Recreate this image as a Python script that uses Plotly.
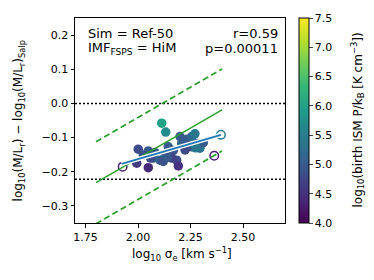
import plotly.graph_objects as go

# ---- data ----
sigma = [2.113, 2.132, 2.001, 2.049, 2.025, 2.081, 2.049, 1.994, 2.105, 2.129,
         2.144, 2.168, 2.184, 2.192, 2.208, 2.232, 2.256, 2.271, 2.280, 2.256,
         2.224, 2.295, 2.200, 2.160, 2.073, 2.311, 2.275, 2.120, 2.140, 2.060]
dml = [-0.058, -0.084, -0.134, -0.139, -0.151, -0.144, -0.188, -0.175, -0.166, -0.151,
       -0.127, -0.138, -0.166, -0.183, -0.117, -0.105, -0.097, -0.089, -0.117, -0.127,
       -0.136, -0.131, -0.097, -0.160, -0.160, -0.115, -0.130, -0.170, -0.158, -0.160]
pressure = [6.0, 5.7, 4.8, 5.0, 4.9, 5.0, 4.4, 4.6, 5.0, 5.2,
            5.0, 4.9, 4.8, 4.5, 5.1, 5.0, 5.2, 5.4, 5.0, 4.9,
            4.8, 5.3, 5.0, 4.7, 5.1, 5.0, 5.4, 4.9, 5.0, 4.8]

open_sigma = [2.395, 2.363, 1.927]
open_dml = [-0.092, -0.153, -0.185]
open_pressure = [5.6, 4.3, 4.4]

fit_x = [1.922, 2.395]
fit_y = [-0.177, -0.092]

rel_x = [1.80, 2.40]
rel_y = [-0.232, -0.019]
rel_scatter = 0.12

ref_levels = [0.0, -0.2218]

xticks = [1.75, 2.00, 2.25, 2.50]
yticks = [-0.3, -0.2, -0.1, 0.0, 0.1, 0.2]
cticks = [4.0, 4.5, 5.0, 5.5, 6.0, 6.5, 7.0, 7.5]

FONT = "DejaVu Sans"
green = "#2ca02c"
blue = "#1f77b4"

fig = go.Figure()

# reference horizontal dotted lines
for lv in ref_levels:
    fig.add_trace(go.Scatter(x=[1.7, 2.7], y=[lv, lv], mode="lines",
                             line=dict(color="black", width=1.5, dash="2px,2px"),
                             showlegend=False, hoverinfo="skip"))

# filled points
fig.add_trace(go.Scatter(
    x=sigma, y=dml, mode="markers",
    marker=dict(size=9.5, color=pressure, colorscale="Viridis", cmin=4.0, cmax=7.5,
                line=dict(width=0),
                showscale=True,
                colorbar=dict(x=1.067, xanchor="left", xpad=0, y=0.5, yanchor="middle",
                              ypad=0, len=1.0, lenmode="fraction", thickness=10,
                              outlinewidth=1, outlinecolor="black",
                              ticks="outside", ticklen=3.5, tickwidth=1,
                              tickvals=cticks, tickformat=".1f",
                              tickfont=dict(family=FONT, size=11, color="black"))),
    showlegend=False))

# open points
fig.add_trace(go.Scatter(
    x=open_sigma, y=open_dml, mode="markers",
    marker=dict(size=8.5, symbol="circle-open", color=open_pressure, colorscale="Viridis",
                cmin=4.0, cmax=7.5, line=dict(width=1.5)),
    showlegend=False))

# green relation with scatter band
fig.add_trace(go.Scatter(x=rel_x, y=rel_y, mode="lines",
                         line=dict(color=green, width=1.5), showlegend=False))
for s in (rel_scatter, -rel_scatter):
    fig.add_trace(go.Scatter(x=rel_x, y=[v + s for v in rel_y], mode="lines",
                             line=dict(color=green, width=1.8, dash="6px,3.5px"),
                             showlegend=False))

# blue fit with white outline
fig.add_trace(go.Scatter(x=fit_x, y=fit_y, mode="lines",
                         line=dict(color="white", width=4.5), showlegend=False))
fig.add_trace(go.Scatter(x=fit_x, y=fit_y, mode="lines",
                         line=dict(color=blue, width=2), showlegend=False))

ann_font = dict(family=FONT, size=13, color="black")
title_font = dict(family=FONT, size=12, color="black")
anns = [
    dict(text="Sim = Ref-50", x=0.052, y=0.922, xanchor="left", yanchor="middle", font=ann_font),
    dict(text="IMF<sub>FSPS</sub> = HiM", x=0.052, y=0.849, xanchor="left", yanchor="middle", font=ann_font),
    dict(text="r=0.59", x=0.976, y=0.922, xanchor="right", yanchor="middle", font=ann_font),
    dict(text="p=0.00011", x=0.976, y=0.849, xanchor="right", yanchor="middle", font=ann_font),
    dict(text="log<sub>10</sub> σ<sub>e</sub> [km s<sup>−1</sup>]", x=0.508, y=-0.152,
         xanchor="center", yanchor="middle", font=title_font),
    dict(text="log<sub>10</sub>(M/L<sub>r</sub>) − log<sub>10</sub>(M/L<sub>r</sub>)<sub>Salp</sub>",
         x=-0.267, y=0.5, xanchor="center", yanchor="middle", textangle=-90, font=title_font),
    dict(text="log<sub>10</sub>(birth ISM P/k<sub>B</sub> [K cm<sup>−3</sup>])",
         x=1.343, y=0.5, xanchor="center", yanchor="middle", textangle=-90, font=title_font),
]
for a in anns:
    fig.add_annotation(xref="paper", yref="paper", showarrow=False, **a)

axis_common = dict(showgrid=False, zeroline=False, showline=True, linecolor="black",
                   linewidth=1, mirror=True, ticks="outside", ticklen=3.5, tickwidth=1,
                   tickcolor="black", tickfont=dict(family=FONT, size=11, color="black"))
fig.update_xaxes(range=[1.7, 2.7], tickvals=xticks, tickformat=".2f", **axis_common)
fig.update_yaxes(range=[-0.35, 0.25], tickvals=yticks, tickformat=".1f", **axis_common)

fig.update_layout(width=374, height=280,
                  margin=dict(l=75, r=89, t=18, b=57),
                  paper_bgcolor="white", plot_bgcolor="white",
                  font=dict(family=FONT, size=11, color="black"),
                  showlegend=False)

fig.write_html("out.html", config={"displayModeBar": False},
               post_script="document.body.style.margin='0';document.body.style.padding='0';")
